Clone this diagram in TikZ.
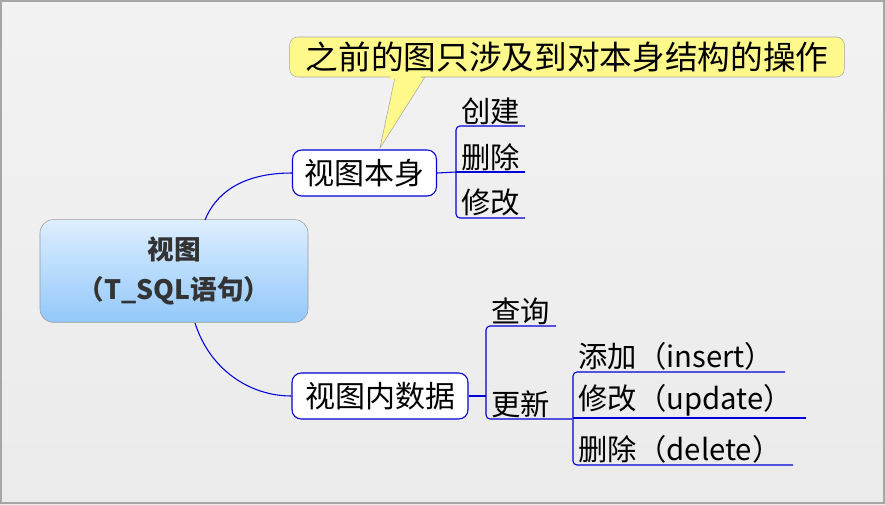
\documentclass[tikz,border=0pt]{standalone}
\usepackage{fontspec}
\setmainfont{Noto Sans CJK SC}
\definecolor{rtop}{HTML}{DDEEFF}
\definecolor{rbot}{HTML}{92C8FA}
\begin{document}
\begin{tikzpicture}[x=0.75pt,y=-0.75pt,
  br/.style={draw=blue!85!black,line width=0.8pt},
  lab/.style={anchor=south west,inner sep=1pt,font=\fontsize{22}{22}\selectfont},
  topic/.style={draw=blue!85!black,fill=white,rounded corners=7pt,line width=0.8pt,inner sep=0pt,minimum height=34.5pt,font=\fontsize{22.5}{22}\selectfont}]
\useasboundingbox (0,0) rectangle (885,504);
\fill[top color=white!95!black,bottom color=white!92!black] (0,0) rectangle (885,504);
\draw[gray!70,line width=0.8pt] (1,1) rectangle (884,503);
% root
\node[draw=gray!80,rounded corners=10pt,top color=rtop,bottom color=rbot,
  minimum width=201pt,minimum height=77pt,align=center,font=\fontsize{20}{30}\selectfont\bfseries,text=black!80]
  (root) at (174,271) {视图\\（T\_SQL语句）};
\node[topic,minimum width=108pt] (a) at (364.5,173) {视图本身};
\node[topic,minimum width=132pt] (b) at (380,396) {视图内数据};
\draw[br] (205,220) .. controls (215,195) and (240,173) .. (a.west);
\draw[br] (195,323) .. controls (210,370) and (250,396) .. (b.west);
% callout
\fill[yellow!45,draw=gray!70] (380,148) -- (395,77) -- (425,77) -- cycle;
\node[draw=gray!70,fill=yellow!45,rounded corners=6pt,minimum width=416pt,minimum height=30pt,inner sep=0pt,
  font=\fontsize{24.5}{25}\selectfont] (c) at (567,57) {之前的图只涉及到对本身结构的操作};
\fill[yellow!45] (387,79) -- (397,73) -- (423,73) -- (420,79) -- cycle;
% branches a
\coordinate (a1) at (456,126); \coordinate (a2) at (456,172); \coordinate (a3) at (456,218);
\draw[br] (a.east) -- (a2);
\draw[br,rounded corners=3pt] (525,126) -- (a1) -- (a3) -- (525,218);
\draw[br] (a2) -- (525,172);
\node[lab] (a1t) at (460,126) {创建};
\node[lab] (a2t) at (460,172) {删除};
\node[lab] (a3t) at (460,218) {修改};
% branches b
\coordinate (b1) at (486,326); \coordinate (b2) at (486,419);
\draw[br] (b.east) -- (486,396);
\draw[br,rounded corners=3pt] (556,326) -- (b1) -- (b2) -- (572,419);
\node[lab] (b1t) at (490,326) {查询};
\node[lab] (b2t) at (490,419) {更新};
\coordinate (c1) at (573,372); \coordinate (c2) at (573,418); \coordinate (c3) at (573,465);
\draw[br,rounded corners=3pt] (785,372) -- (c1) -- (c3) -- (793,465);
\draw[br] (c2) -- (806,418);
\node[lab] (c1t) at (577,372) {添加（insert）};
\node[lab] (c2t) at (577,418) {修改（update）};
\node[lab] (c3t) at (577,465) {删除（delete）};
\end{tikzpicture}
\end{document}
